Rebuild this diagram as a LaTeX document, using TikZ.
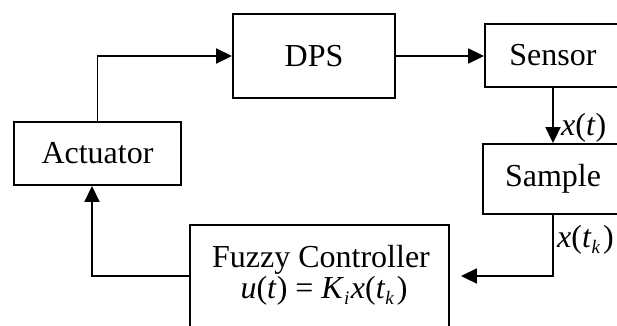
\documentclass[tikz,border=0pt]{standalone}
\usepackage{fontspec}
\setmainfont{Liberation Serif}
\usetikzlibrary{arrows.meta}
\newcommand{\mysub}[1]{\raisebox{-6pt}{\fontsize{19}{19}\selectfont\itshape #1}}
\newcommand{\myit}[1]{\textit{#1}}
\newcommand{\bigfont}{\fontsize{32}{36}\selectfont}
\begin{document}
\begin{tikzpicture}[x=1pt,y=-1pt,
  box/.style={draw, line width=1.9pt, rectangle, inner sep=0pt, font=\bigfont},
  arr/.style={line width=1.9pt, -{Triangle[length=16pt,width=15pt]}},
  lbl/.style={inner sep=0pt, font=\bigfont}]
\path[use as bounding box, clip] (0,0) rectangle (617,325);
\fill[white] (0,0) rectangle (617,325);
\node[box, minimum width=162pt, minimum height=84pt] (dps) at (314,56) {DPS};
\node[box, minimum width=167pt, minimum height=63pt] (act) at (97.5,153.5) {Actuator};
\node[box, minimum width=136pt, minimum height=63pt] (sensor) at (553,55.5) {Sensor};
\node[box, minimum width=140pt, minimum height=70pt] (sample) at (553,179) {Sample};
\node[box, minimum width=259pt, minimum height=102pt] (fuzzy) at (319.5,276) {};
\node[lbl, anchor=base] (fuzzyname) at (321,267) {Fuzzy Controller};
\node[lbl, anchor=base] (fuzzylaw) at (324,298)
  {\myit{u}(\myit{t})\hspace{8pt}=\hspace{8pt}\myit{K}\mysub{i}\hspace{1.5pt}\myit{x}(\myit{t}\mysub{k}\hspace{3pt})};
\coordinate (fin) at ([xshift=11pt]fuzzy.east);
\draw[arr] (act.north) |- (dps.west);
\draw[arr] (dps.east) -- (sensor.west |- dps.east);
\draw[arr] (sensor.south) -- (sample.north);
\draw[arr] (sample.south) |- (fin);
\draw[arr] (fuzzy.west) -| ([xshift=-5.5pt]act.south);
\node[lbl, anchor=base west] (xt) at (561,135) {\myit{x}(\myit{t})};
\node[lbl, anchor=base west] (xtk) at (557,247) {\myit{x}(\myit{t}\mysub{k}\hspace{3pt})};
\end{tikzpicture}
\end{document}
